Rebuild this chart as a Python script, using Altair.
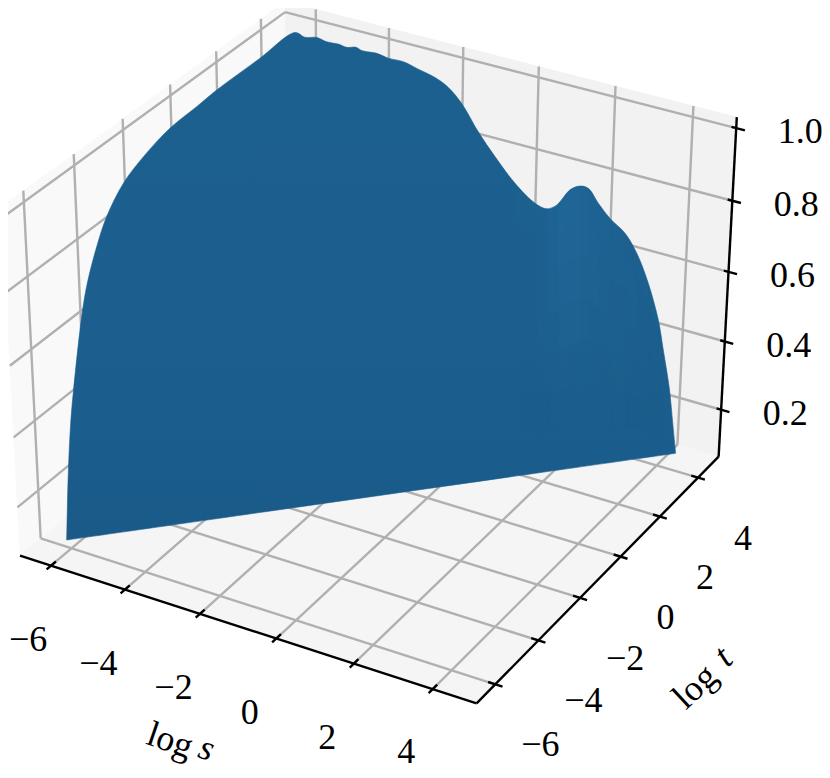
import altair as alt
import numpy as np
import pandas as pd

# camera
CAM = np.array([[35.3687852, 23.9915494, -18.7423782, 427.2067495],
                [9.3287326, -15.8397271, -361.0697505, 518.0466496],
                [-0.0038554, 0.0072419, -0.0512502, 1.0]])
S_LIM = (-6.85, 5.1)
T_LIM = (-6.85, 5.1)
Z_LIM = (0.06, 1.03)
s_ticks = [-6, -4, -2, 0, 2, 4]
t_ticks = [-6, -4, -2, 0, 2, 4]
z_ticks = [0.2, 0.4, 0.6, 0.8, 1.0]
s_labels = ["\u22126", "\u22124", "\u22122", "0", "2", "4"]
t_labels = ["\u22126", "\u22124", "\u22122", "0", "2", "4"]
z_labels = ["0.2", "0.4", "0.6", "0.8", "1.0"]

# surface boundary
S0 = -6.2
T0 = 4.6
edge_t = [-5.893, -5.707, -5.523, -5.354, -4.905, -4.629, -4.198, -3.753, -3.039, -2.192, -1.057, 0.088, 0.959, 2.879, 4.471]
edge_t_z = [0.071, 0.255, 0.387, 0.471, 0.652, 0.73, 0.808, 0.868, 0.923, 0.954, 0.978, 0.983, 0.988, 0.988, 0.988]
edge_s = [-6.003, -5.681, -5.406, -5.089, -4.859, -4.606, -4.451, -4.043, -3.729, -3.323, -2.919, -2.469, -2.111, -1.748, -1.294,
          -0.838, -0.292, 0.25, 0.564, 0.824, 1.162, 1.42, 1.638, 1.911, 2.229, 2.633, 2.956, 3.288, 3.589, 3.753, 3.962, 4.085, 4.201]
edge_s_z = [0.974, 0.982, 0.977, 0.979, 0.976, 0.983, 0.978, 0.981, 0.976, 0.977, 0.967, 0.956, 0.938, 0.903, 0.836,
            0.779, 0.719, 0.678, 0.671, 0.689, 0.742, 0.76, 0.76, 0.726, 0.692, 0.662, 0.615, 0.539, 0.442, 0.36, 0.25, 0.156, 0.069]

# lighter patch of the surface below the valley: one value per boundary segment, one gain per row
glow_s = [0, 0, 0, 0, 0, 0, 0, 0, 0, 0, 0, 0, 0, 0, 0, 0,
          0.03, 0.08, 0.16, 0.24, 0.26, 0.2, 0.16, 0.12, 0.1, 0.07, 0.05, 0.03, 0.01, 0, 0, 0]
row_cut = [0.0, 0.12, 0.25, 0.4, 0.55, 0.7, 0.85]
row_gain = [1.0, 0.9, 0.7, 0.5, 0.3, 0.15]


def proj(s, t, z):
    h = CAM @ np.array([s, t, z, 1.0])
    return float(h[0] / h[2]), float(h[1] / h[2])


X = alt.Scale(domain=[8, 822])
Y = alt.Scale(domain=[770, 8])
xe = lambda f="x": alt.X(f"{f}:Q", scale=X, axis=None)
ye = lambda f="y": alt.Y(f"{f}:Q", scale=Y, axis=None)

smin, smax = S_LIM
tmin, tmax = T_LIM
zmin, zmax = Z_LIM


def poly(corners, color):
    rows = [dict(zip("xy", proj(*c)), i=i) for i, c in enumerate(corners + corners[:1])]
    return alt.Chart(pd.DataFrame(rows)).mark_line(fill=color, stroke=color, strokeWidth=0.5, clip=True).encode(
        x=xe(), y=ye(), order=alt.Order("i:Q"))


def segs(pairs):
    rows = []
    for a, b in pairs:
        x, y = proj(*a)
        x2, y2 = proj(*b)
        rows.append(dict(x=x, y=y, x2=x2, y2=y2))
    return pd.DataFrame(rows)


def rules(pairs, color, w):
    return alt.Chart(segs(pairs)).mark_rule(color=color, strokeWidth=w, strokeCap="butt").encode(
        x=xe(), y=ye(), x2="x2:Q", y2="y2:Q")


panes = [
    poly([(smin, tmin, zmin), (smin, tmax, zmin), (smin, tmax, zmax), (smin, tmin, zmax)], "#f9f9f9"),
    poly([(smin, tmax, zmin), (smax, tmax, zmin), (smax, tmax, zmax), (smin, tmax, zmax)], "#f2f2f2"),
    poly([(smin, tmin, zmin), (smax, tmin, zmin), (smax, tmax, zmin), (smin, tmax, zmin)], "#f5f5f5"),
]

grid_pairs = []
for s in s_ticks:
    grid_pairs += [((s, tmin, zmin), (s, tmax, zmin)), ((s, tmax, zmin), (s, tmax, zmax))]
for t in t_ticks:
    grid_pairs += [((smax, t, zmin), (smin, t, zmin)), ((smin, t, zmin), (smin, t, zmax))]
for z in z_ticks:
    grid_pairs += [((smin, tmin, z), (smin, tmax, z)), ((smin, tmax, z), (smax, tmax, z))]
grid = rules(grid_pairs, "#b0b0b0", 2.4)

# surface outline
top3d = [(S0, t, z) for t, z in zip(edge_t, edge_t_z)] + [(s, T0, z) for s, z in zip(edge_s, edge_s_z)]
a3 = np.array(top3d[0])
b3 = np.array(top3d[-1])
xa, xb = proj(*a3)[0], proj(*b3)[0]
outline = [top3d[0]] + top3d + [top3d[-1], top3d[0], top3d[0]]
outline_rows = [dict(zip("xy", proj(*c)), i=i) for i, c in enumerate(outline)]
surface = alt.Chart(pd.DataFrame(outline_rows)).mark_line(
    interpolate="catmull-rom", stroke="#1b5e8e", strokeWidth=0.6,
    fill=alt.Gradient(gradient="linear", x1=0, x2=0, y1=0, y2=1,
                      stops=[alt.GradientStop(color="#1c608f", offset=0),
                             alt.GradientStop(color="#1c5f8e", offset=0.6),
                             alt.GradientStop(color="#195a89", offset=1)])
).encode(x=xe(), y=ye(), order=alt.Order("i:Q"))


def front(p):
    u = (proj(*p)[0] - xa) / (xb - xa)
    return a3 + (b3 - a3) * np.clip(u, 0, 1)


glow_rows = []
offset = len(edge_t)
for k, g in enumerate(glow_s):
    if g <= 0:
        continue
    p, q = np.array(top3d[offset + k]), np.array(top3d[offset + k + 1])
    fp, fq = front(p), front(q)
    for r, gain in enumerate(row_gain):
        c0, c1 = row_cut[r], row_cut[r + 1] if r + 1 < len(row_cut) else 1.0
        corners = [p + (fp - p) * c0, q + (fq - q) * c0, q + (fq - q) * c1, p + (fp - p) * c1]
        for i, c in enumerate(corners + corners[:1]):
            x, y = proj(*c)
            glow_rows.append(dict(x=x, y=y, i=i, cell=f"{k}-{r}", o=g * gain))
glow = alt.Chart(pd.DataFrame(glow_rows)).mark_line(fill="#2a78ad", strokeWidth=0).encode(
    x=xe(), y=ye(), detail="cell:N", order=alt.Order("i:Q"),
    fillOpacity=alt.FillOpacity("o:Q", scale=None))

axis_pairs = [((smin, tmin, zmin), (smax, tmin, zmin)),
              ((smax, tmin, zmin), (smax, tmax, zmin)),
              ((smax, tmax, zmin), (smax, tmax, zmax))]
tick_pairs = [((s, tmin - 0.18, zmin), (s, tmin + 0.2, zmin)) for s in s_ticks]
tick_pairs += [((smax - 0.18, t, zmin), (smax + 0.18, t, zmin)) for t in t_ticks]
tick_pairs += [((smax - 0.12, tmax, z), (smax + 0.22, tmax, z)) for z in z_ticks]
axes = rules(axis_pairs + tick_pairs, "#000000", 2.4)

FONT = "Liberation Serif"
FS = 36


def labels(points, texts, dx, dy):
    rows = [dict(zip("xy", proj(*p)), text=t) for p, t in zip(points, texts)]
    return alt.Chart(pd.DataFrame(rows)).mark_text(font=FONT, fontSize=FS, color="#000000", align="center", baseline="middle",
                                                   dx=dx, dy=dy).encode(x=xe(), y=ye(), text="text:N")


def axis_word(point, text, ox, oy, angle, style="normal"):
    x, y = proj(*point)
    th = np.radians(angle)
    dx = float(ox * np.cos(th) + oy * np.sin(th))
    dy = float(-ox * np.sin(th) + oy * np.cos(th))
    return alt.Chart(pd.DataFrame([dict(x=x, y=y, text=text)])).mark_text(
        font=FONT, fontSize=FS, fontStyle=style, color="#000000", align="center", baseline="middle", dx=dx, dy=dy, angle=angle
    ).encode(x=xe(), y=ye(), text="text:N")


smid = (smin + smax) / 2
tmid = (tmin + tmax) / 2
texts = [
    labels([(s, tmin, zmin) for s in s_ticks[1:5]], s_labels[1:5], -26.5, 74.5),
    labels([(s_ticks[0], tmin, zmin)], s_labels[:1], -23, 74.5),
    labels([(s_ticks[5], tmin, zmin)], s_labels[5:], -26.5, 63),
    labels([(smax, t, zmin) for t in t_ticks], t_labels, 45, 61),
    labels([(smax, tmax, z) for z in z_ticks], z_labels, 64, 4),
    axis_word((smid, tmin, zmin), "log", -72.8, 113, 19),
    axis_word((smid, tmin, zmin), "s", -36.1, 121, 19, "italic"),
    axis_word((smax, tmid, zmin), "log", 92, 112.2, 317),
    axis_word((smax, tmid, zmin), "t", 120.3, 82.2, 317, "italic"),
]

chart = alt.layer(*panes, grid, surface, glow, axes, *texts).properties(
    width=814, height=762, padding=0, autosize=alt.AutoSizeParams(type="none")
).configure_view(stroke=None)

chart.save("out.html", embed_options={"renderer": "svg", "actions": False})
